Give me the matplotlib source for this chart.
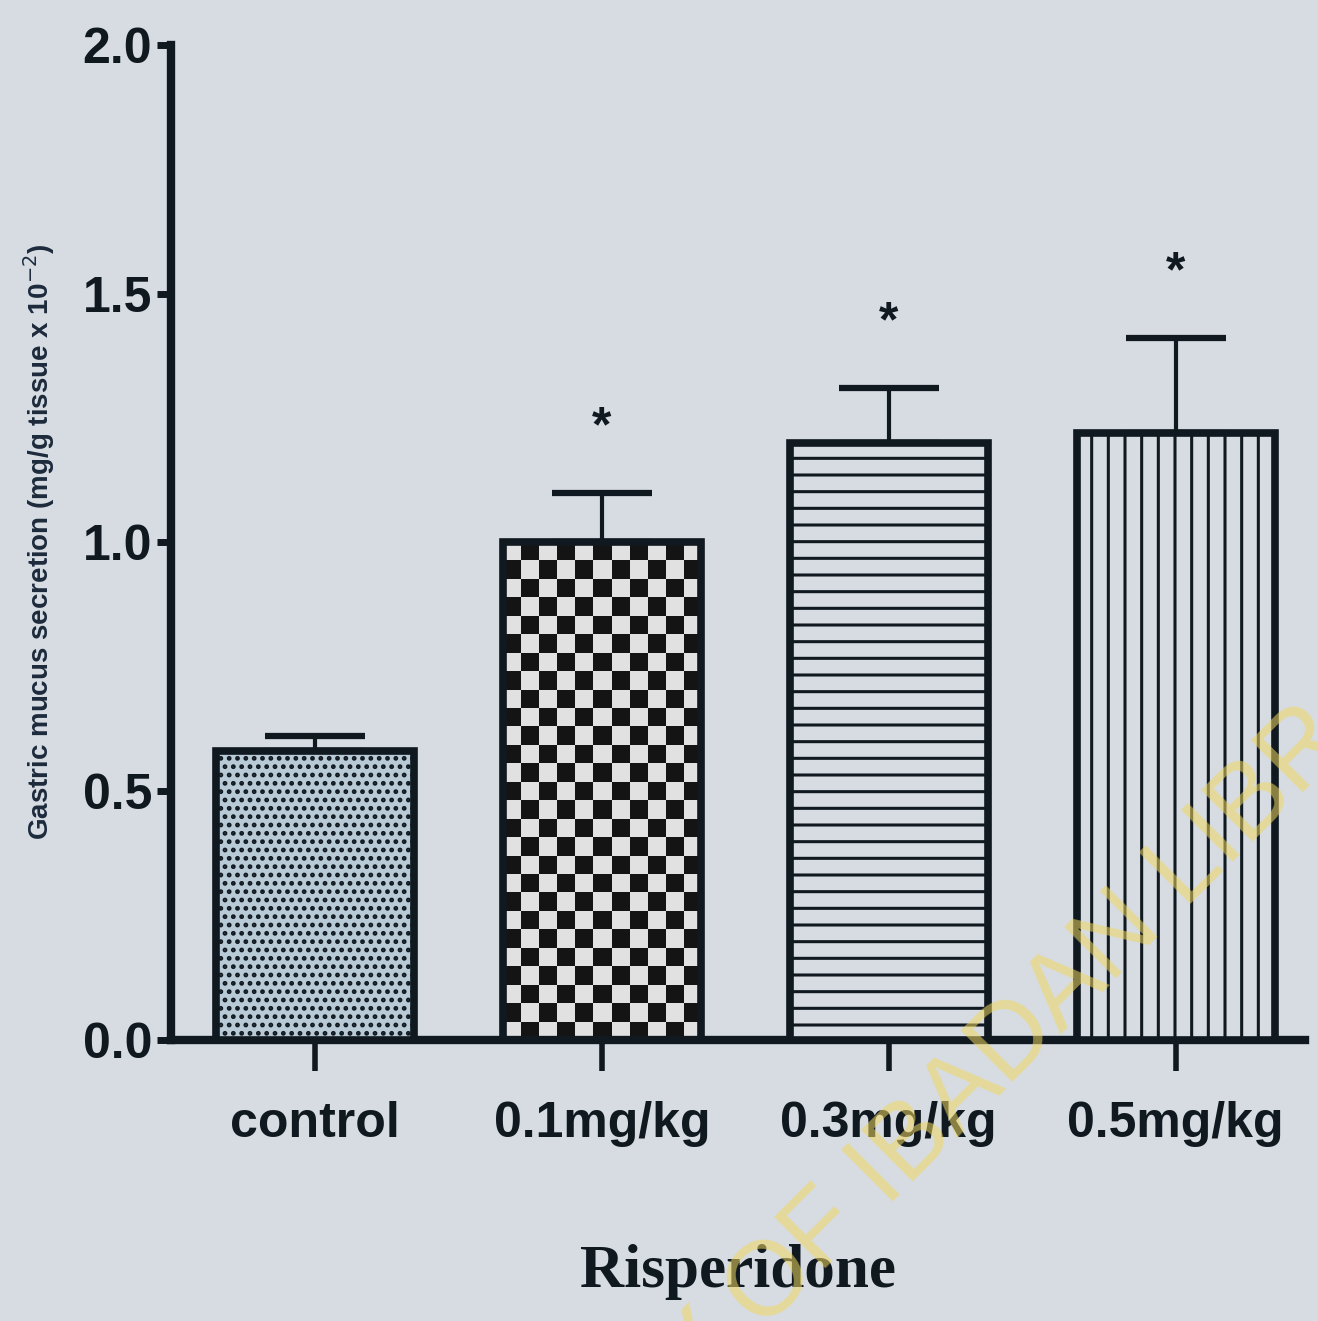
import matplotlib.pyplot as plt
import numpy as np

plt.rcParams['hatch.linewidth'] = 2.2
plt.rcParams['hatch.color'] = '#101820'

groups = ['control', '0.1mg/kg', '0.3mg/kg', '0.5mg/kg']
means = [0.58, 1.00, 1.20, 1.22]
sems = [0.03, 0.10, 0.11, 0.19]
signif = ['', '*', '*', '*']
yticks = [0.0, 0.5, 1.0, 1.5, 2.0]

bg = '#d6dce2'
ink = '#101820'
sans = ['Liberation Sans', 'DejaVu Sans']

fig = plt.figure(figsize=(13.18, 13.21), dpi=100, facecolor=bg)
ax = fig.add_axes([0.13, 0.213, 0.86, 0.753], facecolor=bg)

x = np.arange(len(groups))
fills = ['#b7cad6', 'none', bg, bg]
hatches = ['..', None, '-', '|']
bars = ax.bar(x, means, width=0.69, color=fills, edgecolor=ink, linewidth=5.5,
              zorder=3)
for b, h in zip(bars, hatches):
    if h:
        b.set_hatch(h)

# checkerboard fill for the 0.1 mg/kg bar, clipped to the bar outline
b = bars[1]
x0, w, h = b.get_x(), b.get_width(), b.get_height()
ncol, nrow = 11, 27
checker = (np.indices((nrow, ncol)).sum(axis=0) % 2).astype(float)
im = ax.imshow(checker, cmap='gray_r', extent=(x0, x0 + w, 0, h),
               interpolation='nearest', aspect='auto', zorder=2.5,
               vmin=-0.15, vmax=1.1)
im.set_clip_path(b)

ax.errorbar(x, means, yerr=[np.zeros(len(sems)), sems], fmt='none',
            ecolor=ink, elinewidth=3, capsize=36, capthick=4.5, zorder=2)

for xi, m, s, star in zip(x, means, sems, signif):
    if star:
        ax.text(xi, m + s + 0.13, star, ha='center', va='center',
                fontsize=36, fontweight='bold', color=ink, family=sans)

ax.set_xlim(-0.5, 3.45)
ax.set_ylim(0, 2.0)
ax.set_yticks(yticks)
ax.set_yticklabels([f'{v:.1f}' for v in yticks], family=sans,
                   fontsize=36, fontweight='bold', color=ink)
ax.set_xticks(x)
ax.set_xticklabels(groups, family=sans, fontsize=36, fontweight='bold',
                   color=ink)
ax.tick_params(axis='y', length=10, width=5, color=ink, pad=4)
ax.tick_params(axis='x', length=22, width=4, color=ink, pad=22)

for side in ['top', 'right']:
    ax.spines[side].set_visible(False)
for side in ['left', 'bottom']:
    ax.spines[side].set_linewidth(6)
    ax.spines[side].set_color(ink)

ax.set_xlabel('Risperidone', family=['Liberation Serif', 'DejaVu Serif'],
              fontsize=44, fontweight='bold', color=ink, labelpad=70)
ax.set_ylabel('Gastric mucus secretion (mg/g tissue x 10$^{-2}$)',
              fontsize=20, fontweight='bold', color='#1c2a3c', labelpad=18,
              family=sans)

# library watermark
fig.text(0.667, 0.11, 'UNIVERSITY OF IBADAN LIBRARY', rotation=45,
         ha='center', va='center', fontsize=76, color='#f0d860', alpha=0.55,
         family=sans, zorder=10)

fig.savefig('out.png', dpi=100, facecolor=bg)
